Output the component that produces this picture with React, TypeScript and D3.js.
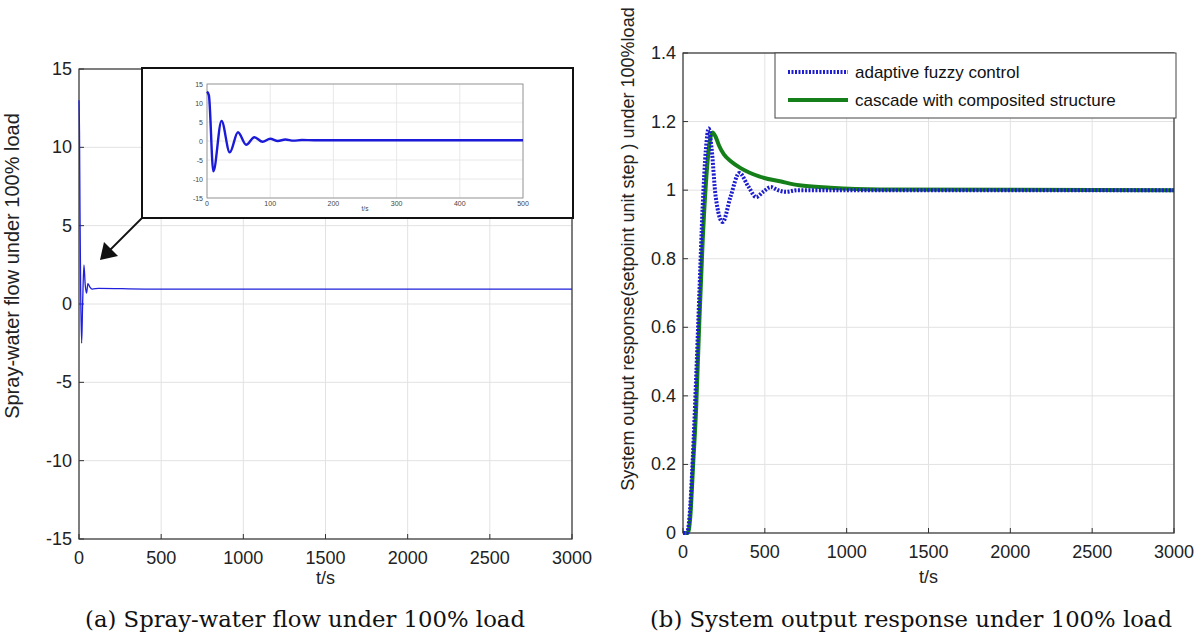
import React from "react";
import * as d3 from "d3";

// ---- data ----
const leftT = [0, 3, 6, 10, 16, 22, 30, 38, 46, 54, 65, 80, 120, 400, 3000];
const leftY = [13, 11, 6, 1, -2.5, 0, 2.5, 1.2, 0.7, 1.3, 1.1, 0.95, 1.0, 0.95, 0.95];

const insetT = [0, 3, 10, 23, 36, 49, 62, 75, 88, 100, 112, 124, 137, 150, 170, 500];
const insetY = [13, 12, -8, 5.3, -3, 2.3, -1, 1, -0.2, 0.6, 0, 0.4, 0.1, 0.25, 0.2, 0.2];

const greenT = [0, 30, 45, 62, 80, 100, 120, 140, 160, 180, 200, 220, 250, 290, 350, 465, 600, 710, 900, 1200, 3000];
const greenY = [0, 0, 0.05, 0.2, 0.36, 0.62, 0.85, 1.02, 1.13, 1.168, 1.155, 1.13, 1.104, 1.085, 1.065, 1.04, 1.025, 1.014, 1.007, 1.002, 1.0];

const blueT = [0, 25, 40, 60, 80, 100, 120, 140, 157, 175, 200, 242, 290, 344, 400, 447, 490, 537, 580, 628, 700, 3000];
const blueY = [0, 0, 0.05, 0.22, 0.45, 0.7, 0.95, 1.12, 1.18, 1.12, 0.98, 0.907, 0.98, 1.05, 1.01, 0.98, 0.995, 1.009, 1.0, 0.995, 1.0, 1.0];

const xTicks = [0, 500, 1000, 1500, 2000, 2500, 3000];
const leftYTicks = [-15, -10, -5, 0, 5, 10, 15];
const rightYTicks = [0, 0.2, 0.4, 0.6, 0.8, 1, 1.2, 1.4];
const insetXTicks = [0, 100, 200, 300, 400, 500];
const insetYTicks = [-15, -10, -5, 0, 5, 10, 15];
const legendLabels = ["adaptive fuzzy control", "cascade with composited structure"];

const FONT = "Arial, 'Liberation Sans', Helvetica, sans-serif";
const SERIF = "'DejaVu Serif', 'Liberation Serif', serif";

function fmt(v: number) {
  return String(Math.round(v * 10) / 10);
}

export default function App() {
  // left main
  const lx = d3.scaleLinear().domain([0, 3000]).range([79, 572]);
  const ly = d3.scaleLinear().domain([-15, 15]).range([539, 69]);
  // right
  const rx = d3.scaleLinear().domain([0, 3000]).range([683, 1174]);
  const ry = d3.scaleLinear().domain([0, 1.4]).range([533, 53]);
  // inset
  const ix = d3.scaleLinear().domain([0, 500]).range([207, 523]);
  const iy = d3.scaleLinear().domain([-15, 15]).range([198, 84]);

  const lineL = d3.line<number>().x((_, i) => lx(leftT[i])).y((d) => ly(d)).curve(d3.curveMonotoneX);
  const lineI = d3.line<number>().x((_, i) => ix(insetT[i])).y((d) => iy(d)).curve(d3.curveMonotoneX);
  const lineG = d3.line<number>().x((_, i) => rx(greenT[i])).y((d) => ry(d)).curve(d3.curveMonotoneX);
  const lineB = d3.line<number>().x((_, i) => rx(blueT[i])).y((d) => ry(d)).curve(d3.curveMonotoneX);

  const gridColor = "#e2e2e2";
  const axisColor = "#333";
  const tickFont = 18;

  return (
    <svg width={1198} height={637} style={{ position: "absolute", left: 0, top: 0, background: "#fff" }} fontFamily={FONT}>
      <rect x={0} y={0} width={1198} height={637} fill="#fff" />

      {/* ===== LEFT PLOT ===== */}
      {xTicks.map((t) => (
        <line key={"lgx" + t} x1={lx(t)} x2={lx(t)} y1={ly(-15)} y2={ly(15)} stroke={gridColor} strokeWidth={1} />
      ))}
      {leftYTicks.map((t) => (
        <line key={"lgy" + t} x1={lx(0)} x2={lx(3000)} y1={ly(t)} y2={ly(t)} stroke={gridColor} strokeWidth={1} />
      ))}
      <rect x={lx(0)} y={ly(15)} width={lx(3000) - lx(0)} height={ly(-15) - ly(15)} fill="none" stroke={axisColor} strokeWidth={1.2} />
      {xTicks.map((t) => (
        <g key={"lxt" + t}>
          <line x1={lx(t)} x2={lx(t)} y1={ly(-15)} y2={ly(-15) - 5} stroke={axisColor} />
          <text x={lx(t)} y={ly(-15) + 25} textAnchor="middle" fontSize={tickFont} fill="#222">{t}</text>
        </g>
      ))}
      {leftYTicks.map((t) => (
        <g key={"lyt" + t}>
          <line x1={lx(0)} x2={lx(0) + 5} y1={ly(t)} y2={ly(t)} stroke={axisColor} />
          <text x={lx(0) - 7} y={ly(t) + 6} textAnchor="end" fontSize={tickFont} fill="#222">{t}</text>
        </g>
      ))}
      <path d={lineL(leftY) || ""} fill="none" stroke="#1f1fdc" strokeWidth={1.3} />
      <text x={(lx(0) + lx(3000)) / 2} y={584} textAnchor="middle" fontSize={18} fill="#222">t/s</text>
      <text transform={`translate(19,266) rotate(-90)`} textAnchor="middle" fontSize={20} fill="#222">Spray-water flow  under 100% load</text>

      {/* inset */}
      <rect x={142} y={68} width={431} height={150} fill="#fff" stroke="#111" strokeWidth={2} />
      {insetXTicks.map((t) => (
        <line key={"igx" + t} x1={ix(t)} x2={ix(t)} y1={iy(-15)} y2={iy(15)} stroke={gridColor} strokeWidth={0.8} />
      ))}
      {insetYTicks.map((t) => (
        <line key={"igy" + t} x1={ix(0)} x2={ix(500)} y1={iy(t)} y2={iy(t)} stroke={gridColor} strokeWidth={0.8} />
      ))}
      <rect x={ix(0)} y={iy(15)} width={ix(500) - ix(0)} height={iy(-15) - iy(15)} fill="none" stroke="#888" strokeWidth={0.8} />
      {insetXTicks.map((t) => (
        <text key={"ixt" + t} x={ix(t)} y={iy(-15) + 8} textAnchor="middle" fontSize={7} fill="#444">{t}</text>
      ))}
      {insetYTicks.map((t) => (
        <text key={"iyt" + t} x={ix(0) - 4} y={iy(t) + 2.5} textAnchor="end" fontSize={7} fill="#444">{t}</text>
      ))}
      <text x={(ix(0) + ix(500)) / 2} y={211} textAnchor="middle" fontSize={6.5} fill="#444">t/s</text>
      <path d={lineI(insetY) || ""} fill="none" stroke="#1a1ad8" strokeWidth={2.4} />

      {/* arrow */}
      <line x1={142} y1={218} x2={110} y2={250} stroke="#111" strokeWidth={1.8} />
      <polygon points="100,260 104,242 118,256" fill="#111" />

      {/* ===== RIGHT PLOT ===== */}
      {xTicks.map((t) => (
        <line key={"rgx" + t} x1={rx(t)} x2={rx(t)} y1={ry(0)} y2={ry(1.4)} stroke={gridColor} strokeWidth={1} />
      ))}
      {rightYTicks.map((t) => (
        <line key={"rgy" + t} x1={rx(0)} x2={rx(3000)} y1={ry(t)} y2={ry(t)} stroke={gridColor} strokeWidth={1} />
      ))}
      <rect x={rx(0)} y={ry(1.4)} width={rx(3000) - rx(0)} height={ry(0) - ry(1.4)} fill="none" stroke={axisColor} strokeWidth={1.2} />
      {xTicks.map((t) => (
        <g key={"rxt" + t}>
          <line x1={rx(t)} x2={rx(t)} y1={ry(0)} y2={ry(0) - 5} stroke={axisColor} />
          <text x={rx(t)} y={ry(0) + 25} textAnchor="middle" fontSize={tickFont} fill="#222">{t}</text>
        </g>
      ))}
      {rightYTicks.map((t) => (
        <g key={"ryt" + t}>
          <line x1={rx(0)} x2={rx(0) + 5} y1={ry(t)} y2={ry(t)} stroke={axisColor} />
          <text x={rx(0) - 7} y={ry(t) + 6} textAnchor="end" fontSize={tickFont} fill="#222">{fmt(t)}</text>
        </g>
      ))}
      <path d={lineG(greenY) || ""} fill="none" stroke="#15801a" strokeWidth={4} />
      <path d={lineB(blueY) || ""} fill="none" stroke="#1c1cd0" strokeWidth={4} strokeDasharray="2,1.5" />
      <text x={(rx(0) + rx(3000)) / 2} y={583} textAnchor="middle" fontSize={18} fill="#222">t/s</text>
      <text transform={`translate(634,249) rotate(-90)`} textAnchor="middle" fontSize={18} fill="#222">System output response(setpoint unit step ) under 100%load</text>

      {/* legend */}
      <rect x={775} y={53} width={401} height={65} fill="#fff" stroke="#444" strokeWidth={1} />
      <line x1={788} x2={848} y1={72} y2={72} stroke="#1c1cd0" strokeWidth={4} strokeDasharray="2,1.5" />
      <line x1={788} x2={848} y1={100} y2={100} stroke="#15801a" strokeWidth={4} />
      <text x={855} y={78} fontSize={17} fill="#111">{legendLabels[0]}</text>
      <text x={855} y={106} fontSize={17} fill="#111">{legendLabels[1]}</text>

      {/* captions */}
      <text x={305} y={627} textAnchor="middle" fontSize={22} fontFamily={SERIF} fill="#111" textLength={440} lengthAdjust="spacingAndGlyphs">(a) Spray-water flow under 100% load</text>
      <text x={911} y={627} textAnchor="middle" fontSize={22} fontFamily={SERIF} fill="#111" textLength={522} lengthAdjust="spacingAndGlyphs">(b) System output response under 100% load</text>
    </svg>
  );
}
